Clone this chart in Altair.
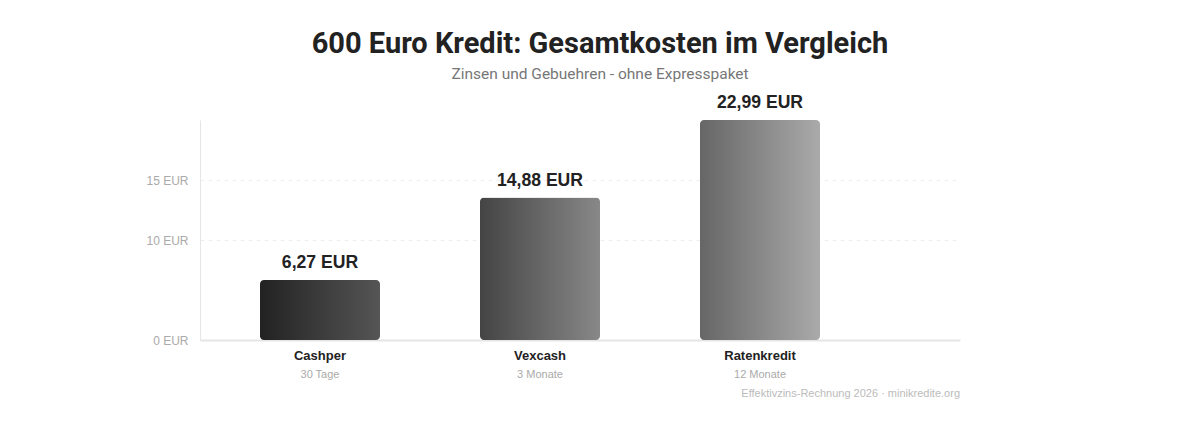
import altair as alt
import pandas as pd

# ---- data ----
providers = ["Cashper", "Vexcash", "Ratenkredit"]
terms = ["30 Tage", "3 Monate", "12 Monate"]
costs = [6.27, 14.88, 22.99]
value_labels = ["6,27 EUR", "14,88 EUR", "22,99 EUR"]
grad_start = ["#222222", "#444444", "#666666"]
grad_end = ["#555555", "#888888", "#aaaaaa"]

# y-axis ticks as drawn in the reference (label text and their positions on the bar scale)
tick_labels = ["0 EUR", "10 EUR", "15 EUR"]
tick_positions = [0, 10.45, 16.72]

title_text = "600 Euro Kredit: Gesamtkosten im Vergleich"
subtitle_text = "Zinsen und Gebuehren - ohne Expresspaket"
footer_text = "Effektivzins-Rechnung 2026 \u00b7 minikredite.org"

df = pd.DataFrame({
    "provider": providers,
    "term": terms,
    "cost": costs,
    "label": value_labels,
})

W, H = 760, 220

label_expr = " : ".join(
    [f"abs(datum.value - {p}) < 0.5 ? '{l}'" for p, l in zip(tick_positions, tick_labels)]
) + " : ''"

x_enc = alt.X(
    "provider:N",
    sort=providers,
    scale=alt.Scale(paddingInner=0.4545, paddingOuter=0.4545, align=0.3),
    axis=alt.Axis(
        title=None, labelAngle=0, ticks=False, labelPadding=9,
        labelFont="Liberation Sans", labelFontSize=13, labelFontWeight="bold",
        labelColor="#222222", domainColor="#e5e5e5", domainWidth=2,
    ),
)
y_enc = alt.Y(
    "cost:Q",
    scale=alt.Scale(domain=[0, max(costs)], nice=False, zero=True),
    axis=alt.Axis(
        title=None, values=tick_positions, labelExpr=label_expr, ticks=False,
        grid=True, gridDash=[4, 4], gridColor="#eeeeee", gridWidth=1,
        domainColor="#e5e5e5", domainWidth=1,
        labelFont="Liberation Sans", labelFontSize=12, labelColor="#aaaaaa",
        labelPadding=12,
    ),
)

base = alt.Chart(df).encode(x=x_enc, y=y_enc)

layers = []
for p, c0, c1 in zip(providers, grad_start, grad_end):
    layers.append(
        base.transform_filter(alt.datum.provider == p).mark_bar(
            cornerRadius=4,
            color=alt.Gradient(
                gradient="linear", x1=0, x2=1, y1=0, y2=0,
                stops=[alt.GradientStop(color=c0, offset=0),
                       alt.GradientStop(color=c1, offset=1)],
            ),
        )
    )

values_text = base.mark_text(
    baseline="alphabetic", dy=-12, fontSize=17.6, fontWeight="bold",
    font="Liberation Sans", color="#222222",
).encode(text="label:N")

sub_text = base.mark_text(
    baseline="middle", fontSize=11, font="Liberation Sans", color="#aaaaaa",
).encode(text="term:N", y=alt.value(H + 35))

footer = alt.Chart(pd.DataFrame({"t": [footer_text]})).mark_text(
    align="right", baseline="middle", fontSize=11, font="Liberation Sans",
    color="#bbbbbb",
).encode(text="t:N", x=alt.value(W), y=alt.value(H + 54))

chart = alt.layer(*layers, values_text, sub_text, footer).properties(
    width=W,
    height=H,
    autosize="none",
    background="white",
    padding={"left": 200, "top": 120, "right": 240, "bottom": 84},
    title=alt.TitleParams(
        text=title_text, subtitle=subtitle_text, anchor="middle", dx=20,
        font="Roboto", fontSize=29, fontWeight="bold", color="#222222",
        subtitleFont="Roboto", subtitleFontSize=15.5, subtitleColor="#777777",
        subtitlePadding=8, offset=12,
    ),
).configure_view(stroke=None)

chart.save("out.html", embed_options={"renderer": "svg", "actions": False})
